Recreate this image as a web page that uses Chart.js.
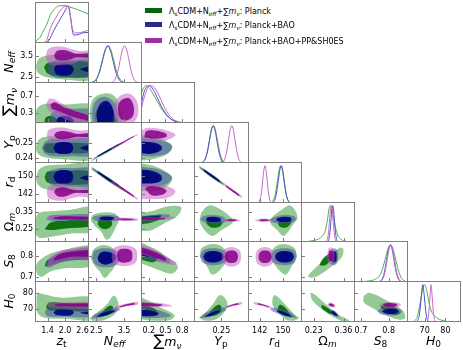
<!DOCTYPE html>
<html>
<head>
<meta charset="utf-8">
<script src="https://cdn.jsdelivr.net/npm/chart.js@4.4.1/dist/chart.umd.min.js"></script>
<style>
  html, body { margin: 0; padding: 0; background: #fff; }
  #fig { position: relative; width: 463px; height: 350px; overflow: hidden; font-family: "DejaVu Sans", sans-serif; }
  #fig canvas { position: absolute; }
  .title { position: absolute; white-space: nowrap; font-size: 12.5px; line-height: 1; color: #000; transform: translate(-50%, -50%); }
  .title.rot { transform: translate(-50%, -50%) rotate(-90deg); }
  .leg { position: absolute; left: 145px; font-size: 8px; line-height: 10px; white-space: nowrap; color: #000; }
  .leg .patch { display: inline-block; width: 17px; height: 5px; margin-right: 7px; vertical-align: 1px; }
  sub { font-size: 0.72em; vertical-align: -0.3em; line-height: 0; }
  .big { font-size: 1.3em; }
</style>
</head>
<body>
<div id="fig"></div>
<script>
// parameters: z_t, N_eff, sum m_nu, Y_p, r_d, Omega_m, S_8, H_0
const ranges = [[0.97, 2.82], [2.2, 4.15], [0.06, 1.03], [0.2368, 0.2633], [138, 156.5], [0.175, 0.41], [0.675, 0.87], [61.5, 87.5]];
const xTickLabels = [['1.4', '2.0', '2.6'], ['2.5', '3.5'], ['0.2', '0.5', '0.8'], ['0.25'], ['142', '150'], ['0.23', '0.36'], ['0.7', '0.8'], ['70', '80']];
const yTickLabels = [[], ['2.5', '3.5'], ['0.3', '0.7'], ['0.24', '0.25'], ['142', '150'], ['0.25', '0.35'], ['0.7', '0.8'], ['70', '80']];
const axisTitles = [
  '<i>z</i><sub>t</sub>', '<i>N</i><sub><i>eff</i></sub>', '<span class="big">∑</span><i>m</i><sub><i>ν</i></sub>',
  '<i>Y</i><sub>p</sub>', '<i>r</i><sub>d</sub>', 'Ω<sub><i>m</i></sub>', '<i>S</i><sub>8</sub>', '<i>H</i><sub>0</sub>'
];
const legendLabels = ['Planck', 'Planck+BAO', 'Planck+BAO+PP&amp;SH0ES'];

const legendColors = ['#0a640a', '#2b2b8c', '#a02ea0'];
const lineColors = ['#4fae4f', '#5050c8', '#c865c8'];
const fill95 = ['rgba(60,160,60,0.55)', 'rgba(70,80,170,0.55)', 'rgba(195,85,195,0.5)'];
const fill68 = ['rgba(0,105,0,0.9)', 'rgba(0,0,125,0.9)', 'rgba(135,0,135,0.85)'];

// 1D marginals, flat [x, density, ...]
const planck1d = [
  [0.97, 0.02, 1.0, 0.05, 1.14, 0.15, 1.26, 0.33, 1.38, 0.51, 1.49, 0.74, 1.6, 0.88, 1.7, 0.96, 1.8, 1.0, 2.0, 1.0, 2.15, 0.97, 2.3, 0.93, 2.42, 0.9, 2.6, 0.84, 2.82, 0.77],
  [2.3, 0.01, 2.43, 0.05, 2.53, 0.14, 2.63, 0.33, 2.73, 0.61, 2.83, 0.88, 2.93, 1, 3.03, 0.88, 3.13, 0.61, 3.23, 0.32, 3.33, 0.135, 3.43, 0.045, 3.55, 0.01],
  [0.06, 0.75, 0.1, 0.92, 0.15, 1.0, 0.22, 0.92, 0.3, 0.72, 0.4, 0.45, 0.5, 0.24, 0.6, 0.1, 0.7, 0.035, 0.8, 0.01, 0.9, 0],
  [0.2405, 0.011, 0.24145, 0.044, 0.2424, 0.135, 0.24335, 0.325, 0.2443, 0.607, 0.24525, 0.882, 0.2462, 1, 0.24715, 0.882, 0.2481, 0.607, 0.24905, 0.325, 0.25, 0.135, 0.25095, 0.044, 0.2519, 0.011],
  [145.9, 0.011, 146.45, 0.044, 147.0, 0.135, 147.55, 0.325, 148.1, 0.607, 148.65, 0.882, 149.2, 1, 149.75, 0.882, 150.3, 0.607, 150.85, 0.325, 151.4, 0.135, 151.95, 0.044, 152.5, 0.011],
  [0.19, 0, 0.22, 0.03, 0.25, 0.08, 0.27, 0.18, 0.28, 0.3, 0.29, 0.6, 0.298, 0.95, 0.303, 1.0, 0.31, 0.9, 0.318, 0.62, 0.327, 0.35, 0.337, 0.16, 0.35, 0.07, 0.37, 0.02, 0.39, 0],
  [0.7, 0, 0.73, 0.03, 0.75, 0.07, 0.77, 0.2, 0.78, 0.4, 0.79, 0.68, 0.8, 0.93, 0.806, 1.0, 0.815, 0.9, 0.825, 0.62, 0.835, 0.32, 0.845, 0.12, 0.855, 0.04, 0.865, 0],
  [64, 0, 65.5, 0.05, 66.5, 0.15, 67.5, 0.4, 68.5, 0.75, 69.5, 0.97, 70, 1.0, 71, 0.85, 72, 0.55, 73, 0.32, 74.5, 0.18, 76, 0.1, 78, 0.05, 80, 0.02, 82, 0]
];
const bao1d = [
  [1.3, 0, 1.45, 0.08, 1.61, 0.33, 1.84, 0.65, 2.01, 0.88, 2.09, 0.99, 2.13, 0.97, 2.19, 0.7, 2.25, 0.33, 2.3, 0.21, 2.4, 0.22, 2.5, 0.24, 2.65, 0.28, 2.82, 0.28],
  [2.3, 0.01, 2.43, 0.044, 2.53, 0.135, 2.62, 0.32, 2.72, 0.61, 2.815, 0.88, 2.91, 1, 3.0, 0.88, 3.1, 0.61, 3.19, 0.32, 3.29, 0.135, 3.38, 0.044, 3.5, 0.01],
  [0.06, 0.5, 0.12, 0.85, 0.2, 1.0, 0.28, 0.9, 0.36, 0.65, 0.45, 0.38, 0.55, 0.17, 0.65, 0.06, 0.75, 0.015, 0.85, 0],
  [0.2406, 0.011, 0.2415, 0.044, 0.2424, 0.135, 0.2433, 0.325, 0.2442, 0.607, 0.2451, 0.882, 0.246, 1, 0.2469, 0.882, 0.2478, 0.607, 0.2487, 0.325, 0.2496, 0.135, 0.2505, 0.044, 0.2514, 0.011],
  [146.4, 0.011, 146.9, 0.044, 147.4, 0.135, 147.9, 0.325, 148.4, 0.607, 148.9, 0.882, 149.4, 1, 149.9, 0.882, 150.4, 0.607, 150.9, 0.325, 151.4, 0.135, 151.9, 0.044, 152.4, 0.011],
  [0.2905, 0.011, 0.2943, 0.044, 0.298, 0.135, 0.3018, 0.325, 0.3055, 0.607, 0.3093, 0.882, 0.313, 1, 0.3168, 0.882, 0.3205, 0.607, 0.3243, 0.325, 0.328, 0.135, 0.3318, 0.044, 0.3355, 0.011],
  [0.767, 0.011, 0.7735, 0.044, 0.78, 0.135, 0.7865, 0.325, 0.793, 0.607, 0.7995, 0.882, 0.806, 1, 0.8125, 0.882, 0.819, 0.607, 0.8255, 0.325, 0.832, 0.135, 0.8385, 0.044, 0.845, 0.011],
  [66, 0, 66.7, 0.05, 67.3, 0.15, 67.8, 0.35, 68.4, 0.68, 69.1, 1.0, 69.8, 0.7, 70.4, 0.35, 71, 0.12, 71.6, 0.03, 72.3, 0]
];
const shoes1d = [
  [1.27, 0, 1.38, 0.1, 1.49, 0.38, 1.73, 0.74, 1.9, 0.93, 2.01, 0.99, 2.07, 1.0, 2.12, 0.95, 2.19, 0.65, 2.25, 0.38, 2.36, 0.27, 2.54, 0.28, 2.82, 0.35],
  [3.0, 0.01, 3.12, 0.044, 3.2, 0.135, 3.28, 0.32, 3.36, 0.61, 3.44, 0.88, 3.52, 1, 3.6, 0.88, 3.68, 0.61, 3.76, 0.32, 3.84, 0.135, 3.92, 0.044, 4.02, 0.01],
  [0.06, 0.35, 0.13, 0.75, 0.22, 1.0, 0.3, 0.95, 0.38, 0.75, 0.47, 0.45, 0.57, 0.2, 0.67, 0.07, 0.77, 0.02, 0.87, 0],
  [0.2502, 0.011, 0.251, 0.044, 0.2518, 0.135, 0.2526, 0.325, 0.2534, 0.607, 0.2542, 0.882, 0.255, 1, 0.2558, 0.882, 0.2566, 0.607, 0.2574, 0.325, 0.2582, 0.135, 0.259, 0.044, 0.2598, 0.011],
  [141.55, 0.011, 141.93, 0.044, 142.3, 0.135, 142.68, 0.325, 143.05, 0.607, 143.43, 0.882, 143.8, 1, 144.18, 0.882, 144.55, 0.607, 144.93, 0.325, 145.3, 0.135, 145.68, 0.044, 146.05, 0.011],
  [0.2845, 0.011, 0.2883, 0.044, 0.292, 0.135, 0.2958, 0.325, 0.2995, 0.607, 0.3033, 0.882, 0.307, 1, 0.3108, 0.882, 0.3145, 0.607, 0.3183, 0.325, 0.322, 0.135, 0.3258, 0.044, 0.3295, 0.011],
  [0.769, 0.011, 0.7755, 0.044, 0.782, 0.135, 0.7885, 0.325, 0.795, 0.607, 0.8015, 0.882, 0.808, 1, 0.8145, 0.882, 0.821, 0.607, 0.8275, 0.325, 0.834, 0.135, 0.8405, 0.044, 0.847, 0.011],
  [70.8, 0, 71.5, 0.06, 72.0, 0.25, 72.5, 0.6, 73.1, 1.0, 73.7, 0.62, 74.2, 0.26, 74.7, 0.07, 75.3, 0]
];

// 2D contours, key = row+col, polygons as flat [x, y, ...]
const planck95 = {
  '10': [[1.0, 3.0, 1.1, 3.35, 1.35, 3.5, 1.9, 3.55, 2.95, 3.55, 2.95, 2.4, 1.9, 2.38, 1.3, 2.5, 1.06, 2.7]],
  '20': [[0.99, 0.0, 0.99, 0.3, 1.1, 0.45, 1.4, 0.52, 2.0, 0.5, 2.95, 0.48, 2.95, 0.0]],
  '30': [[1.0, 0.2465, 1.1, 0.252, 1.35, 0.2538, 1.9, 0.254, 2.95, 0.254, 2.95, 0.2395, 1.9, 0.2392, 1.3, 0.2405, 1.06, 0.243]],
  '40': [[1.0, 149.5, 1.1, 153, 1.35, 154.8, 1.9, 155.3, 2.95, 155.3, 2.95, 143.5, 1.9, 143.3, 1.3, 144.3, 1.06, 146.5]],
  '50': [[1.0, 0.22, 0.99, 0.3, 1.1, 0.345, 1.5, 0.355, 2.2, 0.365, 2.95, 0.375, 2.95, 0.24, 2.2, 0.225, 1.5, 0.205, 1.1, 0.2]],
  '60': [[1.05, 0.71, 1.0, 0.745, 1.1, 0.775, 1.5, 0.81, 2.0, 0.83, 2.95, 0.845, 2.95, 0.755, 2.0, 0.74, 1.5, 0.725, 1.2, 0.7]],
  '70': [[1.02, 75, 1.06, 79.5, 1.3, 79, 1.8, 77, 2.95, 76.5, 2.95, 63.5, 2.0, 63.5, 1.3, 64.2, 1.06, 67]],
  '21': [[2.3, 0.0, 2.27, 0.4, 2.42, 0.66, 2.8, 0.76, 3.15, 0.7, 3.35, 0.45, 3.42, 0.0]],
  '31': [[2.33, 0.2388, 3.5, 0.2507, 3.5, 0.2497, 2.33, 0.2379]],
  '41': [[2.33, 154.4, 3.5, 144.5, 3.5, 143.2, 2.33, 153.1]],
  '51': [[2.3, 0.3, 2.35, 0.33, 2.6, 0.345, 2.9, 0.35, 3.2, 0.34, 3.32, 0.31, 3.2, 0.26, 3.0, 0.2, 2.85, 0.19, 2.7, 0.23, 2.45, 0.27]],
  '61': [[2.3, 0.79, 2.4, 0.83, 2.7, 0.85, 3.05, 0.84, 3.25, 0.8, 3.2, 0.76, 3.0, 0.72, 2.8, 0.695, 2.6, 0.73, 2.4, 0.76]],
  '71': [[2.25, 63.5, 2.5, 67, 2.9, 73, 3.1, 78, 3.22, 77, 3.3, 72, 3.2, 67, 2.8, 62.8, 2.4, 62.3]],
  '32': [[0.0, 0.2395, 0.0, 0.2535, 0.2, 0.2545, 0.45, 0.252, 0.62, 0.248, 0.55, 0.243, 0.35, 0.24, 0.15, 0.2385]],
  '42': [[0.0, 143.5, 0.0, 155, 0.2, 155.3, 0.45, 153, 0.62, 149, 0.5, 145, 0.3, 143.5]],
  '52': [[0.0, 0.25, 0.0, 0.33, 0.3, 0.36, 0.55, 0.385, 0.78, 0.38, 0.72, 0.33, 0.45, 0.28, 0.2, 0.24]],
  '62': [[0.0, 0.77, 0.0, 0.86, 0.25, 0.84, 0.5, 0.8, 0.72, 0.75, 0.62, 0.715, 0.35, 0.735]],
  '72': [[0.0, 63.5, 0.0, 77, 0.2, 75, 0.45, 70, 0.66, 66, 0.6, 63, 0.3, 62.3]],
  '43': [[0.2393, 154.9, 0.2512, 147, 0.2512, 145.8, 0.2393, 153.7]],
  '53': [[0.2395, 0.31, 0.2405, 0.35, 0.244, 0.39, 0.249, 0.37, 0.2545, 0.32, 0.2555, 0.29, 0.25, 0.245, 0.246, 0.21, 0.243, 0.23, 0.24, 0.28]],
  '63': [[0.2395, 0.8, 0.2405, 0.835, 0.245, 0.855, 0.25, 0.845, 0.2535, 0.8, 0.2515, 0.76, 0.248, 0.72, 0.2455, 0.71, 0.243, 0.75]],
  '73': [[0.2392, 64, 0.242, 67, 0.246, 73, 0.249, 78.5, 0.2515, 77, 0.253, 72, 0.251, 67, 0.247, 63, 0.242, 62.5]],
  '54': [[155, 0.31, 154.5, 0.35, 152.5, 0.39, 150, 0.37, 146.3, 0.32, 145.5, 0.29, 148, 0.245, 150, 0.21, 151.5, 0.23, 153.5, 0.28]],
  '64': [[154.8, 0.8, 154, 0.835, 151, 0.855, 147.5, 0.845, 145.5, 0.8, 147, 0.76, 149.5, 0.72, 151, 0.71, 153, 0.75]],
  '74': [[155.5, 64, 153.5, 67, 150.5, 73, 147.5, 78.5, 146.5, 77, 146.5, 72, 148.5, 67, 151, 63, 154, 62.5]],
  '65': [[0.205, 0.705, 0.23, 0.735, 0.3, 0.8, 0.345, 0.838, 0.36, 0.83, 0.35, 0.79, 0.31, 0.75, 0.25, 0.705, 0.215, 0.695]],
  '75': [[0.215, 80, 0.235, 79, 0.29, 72, 0.34, 66, 0.385, 62.5, 0.37, 61.5, 0.33, 63.5, 0.28, 68, 0.225, 75]],
  '76': [[0.71, 78, 0.73, 80, 0.79, 75.5, 0.85, 69, 0.86, 64, 0.84, 63, 0.8, 65, 0.74, 70.5, 0.71, 74]]
};
const planck68 = {
  '10': [[1.28, 2.95, 1.4, 3.15, 1.7, 3.2, 2.95, 3.15, 2.95, 2.55, 1.8, 2.5, 1.4, 2.65]],
  '20': [[1.3, 0.0, 1.33, 0.18, 1.55, 0.22, 1.75, 0.12, 1.8, 0.0]],
  '30': [[1.25, 0.2465, 1.35, 0.2492, 1.6, 0.2495, 2.95, 0.249, 2.95, 0.244, 1.8, 0.2432, 1.35, 0.2438]],
  '40': [[1.3, 149.5, 1.38, 152, 1.6, 152.3, 2.95, 152, 2.95, 147, 1.8, 146.5, 1.4, 147.2]],
  '50': [[1.3, 0.25, 1.5, 0.29, 2.0, 0.3, 2.95, 0.31, 2.95, 0.27, 2.0, 0.255, 1.5, 0.245]],
  '60': [[1.3, 0.75, 1.4, 0.78, 1.8, 0.8, 2.95, 0.81, 2.95, 0.785, 2.0, 0.775, 1.5, 0.755]],
  '70': [[1.35, 71, 1.45, 73.8, 2.0, 73.5, 2.95, 73, 2.95, 68.5, 2.0, 68.8, 1.45, 69]],
  '21': [[2.5, 0.0, 2.48, 0.3, 2.65, 0.45, 2.95, 0.48, 3.15, 0.3, 3.2, 0.0]],
  '31': [[2.55, 0.2416, 3.3, 0.2491, 3.3, 0.2483, 2.55, 0.2409]],
  '41': [[2.55, 152.6, 3.3, 146.3, 3.3, 145.4, 2.55, 151.7]],
  '51': [[2.55, 0.28, 2.6, 0.31, 2.85, 0.32, 3.05, 0.3, 3.05, 0.27, 2.85, 0.25, 2.65, 0.26]],
  '61': [[2.55, 0.79, 2.65, 0.815, 2.9, 0.82, 3.1, 0.8, 3.05, 0.77, 2.85, 0.755, 2.65, 0.765]],
  '71': [[2.6, 66, 2.8, 69.5, 3.0, 72, 3.1, 71, 3.05, 67.5, 2.85, 65.5]],
  '32': [[0.0, 0.2435, 0.0, 0.2495, 0.2, 0.2498, 0.35, 0.2478, 0.35, 0.2445, 0.2, 0.2432]],
  '42': [[0.0, 146.8, 0.0, 152.3, 0.2, 152.4, 0.35, 150.5, 0.35, 147.5, 0.2, 146.7]],
  '52': [[0.0, 0.28, 0.0, 0.315, 0.25, 0.33, 0.42, 0.335, 0.4, 0.31, 0.2, 0.285]],
  '62': [[0.0, 0.79, 0.0, 0.83, 0.2, 0.82, 0.35, 0.79, 0.3, 0.77, 0.15, 0.775]],
  '72': [[0.0, 66.5, 0.0, 73, 0.2, 71.5, 0.35, 68.5, 0.3, 66.5, 0.15, 65.8]],
  '43': [[0.2415, 153.4, 0.2492, 148.2, 0.2492, 147.3, 0.2415, 152.5]],
  '53': [[0.2425, 0.3, 0.2435, 0.32, 0.2475, 0.315, 0.2505, 0.29, 0.249, 0.265, 0.2455, 0.26, 0.243, 0.28]],
  '63': [[0.2425, 0.79, 0.2435, 0.81, 0.247, 0.815, 0.2495, 0.8, 0.2485, 0.775, 0.2455, 0.77]],
  '73': [[0.2435, 66, 0.2455, 69.5, 0.2485, 72.5, 0.25, 71, 0.2495, 67.5, 0.2465, 65.5]],
  '54': [[153, 0.3, 152.5, 0.32, 150.2, 0.315, 148.3, 0.29, 149, 0.265, 151, 0.26, 152.5, 0.28]],
  '64': [[152.8, 0.79, 152.2, 0.81, 149.8, 0.815, 148.3, 0.8, 149, 0.775, 151, 0.77]],
  '74': [[152.5, 66, 151.3, 69.5, 149.2, 72.5, 148.3, 71, 148.8, 67.5, 150.8, 65.5]],
  '65': [[0.255, 0.755, 0.27, 0.785, 0.3, 0.81, 0.315, 0.805, 0.305, 0.78, 0.28, 0.755]],
  '75': [[0.265, 72.5, 0.29, 70.5, 0.31, 68, 0.305, 66.5, 0.285, 68, 0.265, 70.5]],
  '76': [[0.77, 71, 0.79, 73.5, 0.83, 70, 0.84, 67, 0.82, 66, 0.79, 68]]
};
const bao95 = {
  '10': [[1.38, 2.85, 1.45, 3.1, 1.7, 3.28, 2.2, 3.3, 2.95, 3.25, 2.95, 2.55, 2.2, 2.45, 1.7, 2.45, 1.45, 2.6]],
  '20': [[1.45, 0.0, 1.5, 0.25, 1.8, 0.4, 2.3, 0.4, 2.95, 0.35, 2.95, 0.0]],
  '30': [[1.2, 0.2465, 1.35, 0.251, 1.7, 0.2525, 2.2, 0.2525, 2.95, 0.252, 2.95, 0.242, 2.2, 0.2412, 1.6, 0.2412, 1.3, 0.243]],
  '40': [[1.38, 149.5, 1.45, 152.2, 1.7, 153.5, 2.2, 153.7, 2.95, 153.3, 2.95, 145.8, 2.2, 145.5, 1.7, 145.6, 1.45, 147]],
  '50': [[1.35, 0.31, 1.5, 0.33, 2.0, 0.335, 2.95, 0.335, 2.95, 0.305, 2.0, 0.3, 1.5, 0.3]],
  '60': [[1.35, 0.745, 1.4, 0.775, 1.8, 0.815, 2.3, 0.83, 2.95, 0.835, 2.95, 0.785, 2.3, 0.78, 1.8, 0.765, 1.5, 0.745]],
  '70': [[1.3, 67.5, 1.4, 70.3, 2.0, 70.5, 2.95, 70.3, 2.95, 65, 2.0, 64.8, 1.4, 65.2]],
  '21': [[2.38, 0.0, 2.35, 0.35, 2.5, 0.6, 2.8, 0.68, 3.15, 0.55, 3.28, 0.3, 3.25, 0.0]],
  '31': [[2.4, 0.2401, 3.42, 0.2503, 3.42, 0.2494, 2.4, 0.2392]],
  '41': [[2.38, 153.8, 3.42, 145.0, 3.42, 144.0, 2.38, 152.8]],
  '51': [[2.35, 0.315, 2.45, 0.328, 2.9, 0.333, 3.3, 0.325, 3.35, 0.31, 3.2, 0.298, 2.8, 0.295, 2.45, 0.302]],
  '61': [[2.35, 0.79, 2.45, 0.825, 2.9, 0.835, 3.3, 0.815, 3.35, 0.785, 3.2, 0.755, 2.8, 0.745, 2.45, 0.76]],
  '71': [[2.3, 63.8, 2.45, 66.5, 2.9, 69.3, 3.3, 70.5, 3.35, 69.2, 3.0, 66.5, 2.6, 64.2]],
  '32': [[0.0, 0.2415, 0.0, 0.2515, 0.25, 0.2522, 0.5, 0.2505, 0.62, 0.2475, 0.55, 0.2435, 0.3, 0.2412]],
  '42': [[0.0, 145.5, 0.0, 153.6, 0.25, 153.8, 0.5, 152, 0.62, 149.5, 0.5, 146.3, 0.25, 145.3]],
  '52': [[0.0, 0.302, 0.0, 0.322, 0.3, 0.333, 0.55, 0.338, 0.58, 0.325, 0.4, 0.31, 0.15, 0.3]],
  '62': [[0.0, 0.79, 0.0, 0.84, 0.3, 0.82, 0.55, 0.785, 0.58, 0.765, 0.4, 0.77, 0.15, 0.785]],
  '72': [[0.0, 64.5, 0.0, 70.5, 0.25, 70, 0.5, 67.5, 0.6, 65.5, 0.45, 64.3, 0.2, 64]],
  '43': [[0.24, 154.3, 0.2505, 147.3, 0.2505, 146.3, 0.24, 153.3]],
  '53': [[0.2397, 0.31, 0.2415, 0.328, 0.246, 0.333, 0.251, 0.322, 0.2522, 0.3, 0.2505, 0.286, 0.246, 0.283, 0.2415, 0.292]],
  '63': [[0.2397, 0.795, 0.2412, 0.825, 0.246, 0.835, 0.251, 0.825, 0.2528, 0.795, 0.251, 0.765, 0.246, 0.755, 0.2412, 0.765]],
  '73': [[0.2395, 64, 0.2415, 66.8, 0.2465, 69.4, 0.2515, 70.5, 0.2522, 69.2, 0.2485, 66.5, 0.243, 64.3]],
  '54': [[154.7, 0.31, 153.5, 0.328, 150.5, 0.333, 147, 0.322, 145.5, 0.305, 146.5, 0.289, 150, 0.283, 153.5, 0.292]],
  '64': [[154.7, 0.795, 153.8, 0.825, 150.5, 0.835, 147, 0.825, 146, 0.795, 147, 0.765, 150.5, 0.755, 153.8, 0.765]],
  '74': [[154.8, 64, 153.3, 66.8, 149.8, 69.4, 146.3, 70.5, 145.7, 69.2, 148.5, 66.5, 152.4, 64.3]],
  '65': [[0.301, 0.795, 0.305, 0.825, 0.318, 0.835, 0.333, 0.825, 0.336, 0.795, 0.332, 0.765, 0.318, 0.755, 0.305, 0.765]],
  '75': [[0.3, 68.5, 0.31, 69.3, 0.325, 68.2, 0.34, 65.5, 0.335, 64.5, 0.32, 65.5, 0.305, 67]],
  '76': [[0.758, 68.5, 0.775, 70.3, 0.805, 70.8, 0.84, 69.8, 0.848, 67.8, 0.83, 66, 0.8, 65.6, 0.77, 66.5]]
};
const bao68 = {
  '10': [[1.62, 2.85, 1.7, 3.05, 1.95, 3.12, 2.2, 3.05, 2.3, 2.85, 2.2, 2.62, 1.95, 2.55, 1.7, 2.62], [2.5, 2.85, 2.7, 2.95, 2.95, 2.98, 2.95, 2.72, 2.7, 2.75]],
  '20': [[1.7, 0.0, 1.75, 0.18, 2.1, 0.22, 2.3, 0.12, 2.3, 0.0]],
  '30': [[1.6, 0.2465, 1.7, 0.2495, 1.95, 0.2503, 2.2, 0.2495, 2.28, 0.2465, 2.2, 0.2435, 1.95, 0.2426, 1.7, 0.2435], [2.5, 0.2465, 2.7, 0.248, 2.95, 0.2482, 2.95, 0.2452, 2.7, 0.245]],
  '40': [[1.6, 149.8, 1.7, 152.2, 1.95, 152.9, 2.2, 152.2, 2.28, 149.8, 2.2, 147.4, 1.95, 146.8, 1.7, 147.4], [2.5, 149.3, 2.7, 150.3, 2.95, 150.4, 2.95, 148.2, 2.7, 148.4]],
  '50': [[1.6, 0.315, 1.8, 0.325, 2.2, 0.325, 2.95, 0.322, 2.95, 0.31, 2.2, 0.31, 1.8, 0.308]],
  '60': [[1.6, 0.775, 1.75, 0.8, 2.2, 0.815, 2.95, 0.82, 2.95, 0.8, 2.2, 0.795, 1.8, 0.78]],
  '70': [[1.6, 67.3, 1.7, 69.1, 2.0, 69.3, 2.25, 68.8, 2.3, 67.3, 2.2, 65.8, 1.9, 65.5, 1.7, 65.9], [2.5, 67.3, 2.7, 68, 2.95, 68, 2.95, 66.6, 2.7, 66.6]],
  '21': [[2.55, 0.0, 2.52, 0.3, 2.65, 0.52, 2.9, 0.58, 3.1, 0.4, 3.12, 0.12, 3.05, 0.0]],
  '31': [[2.55, 0.2414, 3.27, 0.2487, 3.27, 0.2481, 2.55, 0.2408]],
  '41': [[2.55, 152.4, 3.27, 146.3, 3.27, 145.6, 2.55, 151.7]],
  '51': [[2.6, 0.315, 2.7, 0.323, 2.95, 0.325, 3.15, 0.318, 3.15, 0.308, 2.95, 0.303, 2.7, 0.306]],
  '61': [[2.55, 0.79, 2.65, 0.813, 2.9, 0.818, 3.15, 0.808, 3.2, 0.785, 3.05, 0.765, 2.8, 0.76, 2.6, 0.77]],
  '71': [[2.5, 64.8, 2.7, 67, 3.0, 68.7, 3.18, 68.8, 3.05, 67, 2.75, 65.2]],
  '32': [[0.0, 0.2432, 0.0, 0.2495, 0.25, 0.2502, 0.42, 0.248, 0.42, 0.245, 0.25, 0.2428]],
  '42': [[0.0, 147, 0.0, 152.3, 0.25, 152.6, 0.42, 150.5, 0.42, 148, 0.25, 146.8]],
  '52': [[0.0, 0.307, 0.0, 0.318, 0.25, 0.325, 0.4, 0.326, 0.38, 0.317, 0.2, 0.309]],
  '62': [[0.0, 0.8, 0.0, 0.83, 0.2, 0.818, 0.4, 0.795, 0.38, 0.785, 0.2, 0.795]],
  '72': [[0.0, 65.5, 0.0, 69.5, 0.2, 69, 0.38, 67.2, 0.35, 65.8, 0.2, 65.2]],
  '43': [[0.2418, 153, 0.249, 148.2, 0.249, 147.5, 0.2418, 152.3]],
  '53': [[0.2425, 0.308, 0.2437, 0.32, 0.2465, 0.323, 0.2495, 0.314, 0.2495, 0.298, 0.2465, 0.292, 0.2437, 0.296]],
  '63': [[0.2412, 0.795, 0.2425, 0.815, 0.246, 0.822, 0.2495, 0.815, 0.2512, 0.795, 0.2495, 0.775, 0.246, 0.768, 0.2425, 0.775]],
  '73': [[0.2418, 64.9, 0.2445, 67, 0.2478, 68.6, 0.2495, 68.6, 0.248, 67, 0.2445, 65.2]],
  '54': [[153, 0.308, 152.3, 0.32, 150.3, 0.323, 148, 0.314, 147.8, 0.3, 150.3, 0.292, 152.3, 0.296]],
  '64': [[153.8, 0.795, 153, 0.815, 150.5, 0.822, 148.2, 0.815, 147.3, 0.795, 148.2, 0.775, 150.5, 0.768, 153, 0.775]],
  '74': [[153.3, 64.9, 151.3, 67, 149, 68.6, 147.8, 68.6, 149, 67, 151.3, 65.2]],
  '65': [[0.306, 0.795, 0.309, 0.815, 0.318, 0.822, 0.328, 0.815, 0.33, 0.795, 0.328, 0.775, 0.318, 0.768, 0.309, 0.775]],
  '75': [[0.305, 68, 0.315, 68.5, 0.328, 67, 0.333, 65.5, 0.325, 65.5, 0.31, 66.8]],
  '76': [[0.775, 68.3, 0.79, 69.6, 0.81, 69.9, 0.83, 69.2, 0.835, 67.8, 0.82, 66.8, 0.8, 66.6, 0.785, 67.2]]
};
const shoes95 = {
  '10': [[1.33, 3.45, 1.45, 3.85, 1.9, 3.93, 2.25, 3.8, 2.5, 3.72, 2.95, 3.72, 2.95, 3.25, 2.5, 3.25, 2.25, 3.1, 1.8, 3.05, 1.45, 3.12]],
  '20': [[1.35, 0.5, 1.45, 0.63, 1.7, 0.6, 2.3, 0.35, 2.95, 0.15, 2.95, 0.0, 2.4, 0.05, 1.8, 0.22, 1.45, 0.35]],
  '30': [[1.37, 0.2548, 1.45, 0.2585, 1.9, 0.2598, 2.25, 0.2585, 2.5, 0.2578, 2.95, 0.2578, 2.95, 0.2525, 2.5, 0.2525, 2.25, 0.2512, 1.8, 0.2505, 1.45, 0.2515]],
  '40': [[1.37, 143, 1.45, 145.5, 1.8, 146.6, 2.25, 145.5, 2.5, 145, 2.95, 145, 2.95, 140.8, 2.5, 140.8, 2.25, 140.2, 1.9, 139, 1.45, 140]],
  '50': [[1.35, 0.315, 1.5, 0.33, 2.0, 0.33, 2.95, 0.325, 2.95, 0.305, 2.0, 0.305, 1.5, 0.305]],
  '60': [[1.38, 0.755, 1.45, 0.785, 1.8, 0.82, 2.3, 0.835, 2.95, 0.84, 2.95, 0.785, 2.3, 0.78, 1.8, 0.77, 1.5, 0.75]],
  '70': [[1.38, 72.2, 1.45, 73.8, 2.0, 74, 2.95, 73.8, 2.95, 70.4, 2.0, 70.4, 1.45, 70.8]],
  '21': [[3.15, 0.2, 3.15, 0.5, 3.35, 0.7, 3.7, 0.75, 3.98, 0.55, 3.98, 0.2, 3.7, 0.0, 3.35, 0.0]],
  '31': [[3.05, 0.2464, 3.98, 0.2556, 3.98, 0.2547, 3.05, 0.2455]],
  '41': [[3.05, 148.3, 3.98, 140.4, 3.98, 139.5, 3.05, 147.4]],
  '51': [[3.05, 0.31, 3.2, 0.318, 3.6, 0.317, 4.0, 0.312, 4.0, 0.302, 3.6, 0.298, 3.2, 0.3]],
  '61': [[3.05, 0.8, 3.12, 0.835, 3.5, 0.85, 3.9, 0.835, 3.98, 0.8, 3.9, 0.765, 3.5, 0.75, 3.12, 0.765]],
  '71': [[3.1, 70.3, 3.3, 72, 3.7, 73.6, 4.0, 74.3, 4.0, 72.6, 3.6, 71.6, 3.25, 70]],
  '32': [[0.0, 0.252, 0.1, 0.2585, 0.3, 0.2595, 0.55, 0.2575, 0.68, 0.255, 0.55, 0.2518, 0.3, 0.2508]],
  '42': [[0.0, 145.3, 0.12, 146.8, 0.35, 146.6, 0.6, 145, 0.68, 143, 0.55, 140.5, 0.3, 139.8, 0.0, 140.5]],
  '52': [[0.0, 0.298, 0.0, 0.315, 0.3, 0.32, 0.6, 0.324, 0.7, 0.318, 0.5, 0.307, 0.2, 0.3]],
  '62': [[0.0, 0.805, 0.0, 0.85, 0.3, 0.83, 0.55, 0.79, 0.7, 0.765, 0.62, 0.755, 0.4, 0.78, 0.15, 0.8]],
  '72': [[0.0, 71.2, 0.0, 74.2, 0.3, 73.8, 0.55, 72.6, 0.62, 71.5, 0.4, 71.2, 0.15, 70.8]],
  '43': [[0.251, 147.1, 0.2598, 141.2, 0.2598, 140.2, 0.251, 146.1]],
  '53': [[0.2505, 0.303, 0.2515, 0.31, 0.2545, 0.313, 0.2585, 0.306, 0.259, 0.298, 0.2555, 0.294, 0.252, 0.296]],
  '63': [[0.2502, 0.795, 0.2512, 0.828, 0.2548, 0.842, 0.2585, 0.828, 0.2595, 0.795, 0.2585, 0.762, 0.2548, 0.748, 0.2512, 0.762]],
  '73': [[0.2505, 70.5, 0.2535, 72.3, 0.2575, 73.6, 0.26, 74.2, 0.2598, 72.9, 0.256, 71.7, 0.252, 70.2]],
  '54': [[146.3, 0.303, 145.5, 0.31, 143.5, 0.313, 140.8, 0.306, 140.4, 0.298, 142.8, 0.294, 145.3, 0.296]],
  '64': [[147, 0.795, 146.3, 0.828, 143.8, 0.842, 141.3, 0.828, 140.6, 0.795, 141.3, 0.762, 143.8, 0.748, 146.3, 0.762]],
  '74': [[146.5, 70.5, 144.5, 72.3, 141.8, 73.6, 140, 74.2, 140.1, 72.9, 142.8, 71.7, 145.8, 70.2]],
  '65': [[0.29, 0.8, 0.293, 0.83, 0.305, 0.84, 0.318, 0.83, 0.321, 0.8, 0.318, 0.768, 0.305, 0.758, 0.293, 0.768]],
  '75': [[0.29, 72.5, 0.3, 73.8, 0.315, 73.3, 0.325, 71.5, 0.32, 70.5, 0.305, 71]],
  '76': [[0.765, 72.3, 0.78, 73.8, 0.805, 74.2, 0.835, 73.6, 0.845, 72.3, 0.83, 70.8, 0.805, 70.4, 0.78, 70.9]]
};
const shoes68 = {
  '10': [[1.62, 3.5, 1.72, 3.72, 1.95, 3.77, 2.2, 3.68, 2.4, 3.58, 2.95, 3.6, 2.95, 3.42, 2.4, 3.42, 2.2, 3.33, 1.95, 3.27, 1.72, 3.3]],
  '20': [[1.5, 0.5, 1.65, 0.55, 2.0, 0.42, 2.95, 0.2, 2.95, 0.1, 2.3, 0.2, 1.75, 0.35, 1.55, 0.4]],
  '30': [[1.62, 0.2548, 1.72, 0.2568, 1.95, 0.2575, 2.2, 0.2566, 2.4, 0.2556, 2.95, 0.2558, 2.95, 0.2538, 2.4, 0.2538, 2.2, 0.253, 1.95, 0.2522, 1.72, 0.2528]],
  '40': [[1.62, 143, 1.72, 144.6, 1.95, 145.1, 2.2, 144.2, 2.4, 143.8, 2.95, 143.9, 2.95, 142.6, 2.4, 142.6, 2.2, 141.9, 1.95, 140.8, 1.72, 141.3]],
  '50': [[1.55, 0.315, 1.8, 0.324, 2.95, 0.32, 2.95, 0.31, 1.8, 0.308]],
  '60': [[1.6, 0.78, 1.75, 0.805, 2.2, 0.82, 2.95, 0.825, 2.95, 0.8, 2.2, 0.795, 1.8, 0.785]],
  '70': [[1.62, 72.2, 1.75, 73.1, 2.2, 73.1, 2.95, 73, 2.95, 71.4, 2.2, 71.4, 1.75, 71.4]],
  '21': [[3.3, 0.25, 3.3, 0.5, 3.45, 0.62, 3.7, 0.64, 3.85, 0.45, 3.82, 0.22, 3.6, 0.12, 3.4, 0.15]],
  '31': [[3.2, 0.2479, 3.85, 0.2543, 3.85, 0.2537, 3.2, 0.2473]],
  '41': [[3.2, 146.9, 3.85, 141.4, 3.85, 140.7, 3.2, 146.2]],
  '51': [[3.25, 0.309, 3.4, 0.313, 3.7, 0.312, 3.9, 0.308, 3.7, 0.303, 3.4, 0.304]],
  '61': [[3.25, 0.8, 3.3, 0.825, 3.5, 0.833, 3.75, 0.825, 3.8, 0.8, 3.75, 0.775, 3.5, 0.767, 3.3, 0.775]],
  '71': [[3.3, 71, 3.5, 72.3, 3.85, 73.5, 3.9, 72.8, 3.6, 71.8, 3.4, 70.9]],
  '32': [[0.12, 0.2535, 0.15, 0.2572, 0.3, 0.2578, 0.5, 0.256, 0.52, 0.2537, 0.3, 0.2525]],
  '42': [[0.13, 144.5, 0.2, 145.6, 0.38, 145.3, 0.52, 143.5, 0.45, 141.8, 0.25, 141.5]],
  '52': [[0.0, 0.302, 0.0, 0.311, 0.3, 0.315, 0.5, 0.316, 0.48, 0.309, 0.25, 0.304]],
  '62': [[0.0, 0.815, 0.0, 0.84, 0.3, 0.82, 0.5, 0.79, 0.5, 0.775, 0.3, 0.795, 0.15, 0.81]],
  '72': [[0.0, 71.8, 0.0, 73.5, 0.3, 73.2, 0.45, 72.4, 0.4, 71.7, 0.2, 71.5]],
  '43': [[0.2522, 146, 0.2585, 141.8, 0.2585, 141.1, 0.2522, 145.3]],
  '53': [[0.2522, 0.302, 0.2535, 0.307, 0.2555, 0.308, 0.2575, 0.304, 0.2565, 0.299, 0.2535, 0.298]],
  '63': [[0.2515, 0.795, 0.2525, 0.818, 0.2548, 0.825, 0.2572, 0.818, 0.258, 0.795, 0.2572, 0.772, 0.2548, 0.765, 0.2525, 0.772]],
  '73': [[0.2525, 71.1, 0.255, 72.4, 0.258, 73.4, 0.2585, 72.8, 0.2555, 71.9, 0.253, 70.9]],
  '54': [[145.3, 0.302, 144.5, 0.307, 143.2, 0.308, 141.8, 0.304, 142.4, 0.299, 144.4, 0.298]],
  '64': [[146.1, 0.795, 145.5, 0.818, 143.8, 0.825, 142.2, 0.818, 141.6, 0.795, 142.2, 0.772, 143.8, 0.765, 145.5, 0.772]],
  '74': [[145.3, 71.1, 143.5, 72.4, 141.5, 73.4, 141.2, 72.8, 143.2, 71.9, 145, 70.9]],
  '65': [[0.295, 0.8, 0.297, 0.82, 0.305, 0.826, 0.313, 0.82, 0.315, 0.8, 0.313, 0.78, 0.305, 0.774, 0.297, 0.78]],
  '75': [[0.295, 72.5, 0.303, 73.3, 0.315, 72.7, 0.32, 71.5, 0.312, 71.3, 0.3, 71.8]],
  '76': [[0.78, 72.3, 0.79, 73.3, 0.805, 73.6, 0.825, 73.2, 0.832, 72.3, 0.822, 71.4, 0.805, 71.1, 0.79, 71.4]]
};

// panel grid (pixel edges)
const X = [35, 88, 141, 194, 248, 301, 354, 407, 460];
const Y = [2, 42, 82, 122, 162, 202, 241, 281, 321];
const LEFT_W = 35;
const BOTTOM_H = 29;

const fig = document.getElementById('fig');

const toPoints = (flat, close) => {
  const pts = [];
  for (let i = 0; i < flat.length; i += 2) {
    pts.push({ x: flat[i], y: flat[i + 1] });
  }
  if (close) pts.push({ ...pts[0] });
  return pts;
};

// frame and inward tick marks for each panel
const framePlugin = {
  id: 'frame',
  afterDraw(chart) {
    const { ctx, chartArea: a, scales } = chart;
    ctx.save();
    ctx.strokeStyle = '#808080';
    ctx.lineWidth = 1;
    ctx.strokeRect(a.left + 0.5, a.top + 0.5, a.right - a.left - 1, a.bottom - a.top - 1);
    ctx.beginPath();
    scales.x.ticks.forEach((t) => {
      const px = Math.round(scales.x.getPixelForValue(t.value)) + 0.5;
      ctx.moveTo(px, a.bottom - 1);
      ctx.lineTo(px, a.bottom - 4);
    });
    scales.y.ticks.forEach((t) => {
      const py = Math.round(scales.y.getPixelForValue(t.value)) + 0.5;
      ctx.moveTo(a.left + 1, py);
      ctx.lineTo(a.left + 4, py);
    });
    ctx.stroke();
    ctx.restore();
  },
};

const makePanel = (r, c) => {
  const hasY = c === 0 && r > 0;
  const hasX = r === 7;
  const diag = r === c;
  const w = X[c + 1] - X[c] + 1 + (hasY ? LEFT_W : 0);
  const h = Y[r + 1] - Y[r] + 1 + (hasX ? BOTTOM_H : 0);

  const canvas = document.createElement('canvas');
  canvas.width = w;
  canvas.height = h;
  canvas.style.left = (X[c] - (hasY ? LEFT_W : 0)) + 'px';
  canvas.style.top = Y[r] + 'px';
  canvas.style.width = w + 'px';
  canvas.style.height = h + 'px';
  fig.appendChild(canvas);

  let datasets = [];
  if (diag) {
    datasets = [planck1d, bao1d, shoes1d].map((series, s) => ({
      data: toPoints(series[c]),
      borderColor: lineColors[s],
      borderWidth: 1,
      pointRadius: 0,
      fill: false,
      cubicInterpolationMode: 'monotone',
    }));
  } else {
    const key = '' + r + c;
    [[planck95, planck68], [bao95, bao68], [shoes95, shoes68]].forEach((levels, s) => {
      levels.forEach((contours, k) => {
        (contours[key] || []).forEach((poly) => {
          datasets.push({
            data: toPoints(poly, true),
            backgroundColor: k === 0 ? fill95[s] : fill68[s],
            borderWidth: 0,
            pointRadius: 0,
            fill: 'shape',
            tension: 0.35,
          });
        });
      });
    });
  }
  // first dataset is painted last, so reverse to keep Planck at the bottom
  datasets.reverse();

  const tickFont = { family: 'DejaVu Sans', size: 8 };

  return new Chart(canvas, {
    type: 'line',
    data: { datasets },
    options: {
      responsive: false,
      animation: false,
      devicePixelRatio: 1,
      events: [],
      layout: { padding: 0, autoPadding: false },
      plugins: { legend: { display: false }, tooltip: { enabled: false } },
      scales: {
        x: {
          type: 'linear',
          min: ranges[c][0],
          max: ranges[c][1],
          grid: { display: false, drawTicks: false },
          border: { display: false },
          ticks: {
            display: hasX,
            padding: 4,
            color: '#000',
            font: tickFont,
            maxRotation: 0,
            autoSkip: false,
            callback: (v, i) => xTickLabels[c][i],
          },
          afterBuildTicks: (s) => { s.ticks = xTickLabels[c].map((t) => ({ value: parseFloat(t) })); },
          afterFit: (s) => { s.height = hasX ? BOTTOM_H : 0; s.paddingLeft = 0; s.paddingRight = 0; },
        },
        y: {
          type: 'linear',
          min: diag ? 0 : ranges[r][0],
          max: diag ? 1.1 : ranges[r][1],
          grid: { display: false, drawTicks: false },
          border: { display: false },
          ticks: {
            display: hasY,
            padding: 2,
            color: '#000',
            font: tickFont,
            autoSkip: false,
            callback: (v, i) => yTickLabels[r][i],
          },
          afterBuildTicks: (s) => {
            s.ticks = diag ? [] : yTickLabels[r].map((t) => ({ value: parseFloat(t) }));
          },
          afterFit: (s) => { s.width = hasY ? LEFT_W : 0; s.paddingTop = 0; s.paddingBottom = 0; },
        },
      },
    },
    plugins: [framePlugin],
  });
};

for (let r = 0; r < 8; r++) {
  for (let c = 0; c <= r; c++) {
    makePanel(r, c);
  }
}

// axis titles
axisTitles.forEach((html, i) => {
  const bottom = document.createElement('div');
  bottom.className = 'title';
  bottom.innerHTML = html;
  bottom.style.left = ((X[i] + X[i + 1]) / 2) + 'px';
  bottom.style.top = '341px';
  fig.appendChild(bottom);
  if (i > 0) {
    const left = document.createElement('div');
    left.className = 'title rot';
    left.innerHTML = html;
    left.style.left = '9px';
    left.style.top = ((Y[i] + Y[i + 1]) / 2) + 'px';
    fig.appendChild(left);
  }
});

// legend
legendLabels.forEach((label, i) => {
  const item = document.createElement('div');
  item.className = 'leg';
  item.style.top = [7, 21, 37][i] + 'px';
  item.innerHTML = '<span class="patch" style="background:' + legendColors[i] + '"></span>' +
    'Λ<sub>s</sub>CDM+N<sub><i>eff</i></sub>+∑<i>m</i><sub><i>ν</i></sub>: ' + label;
  fig.appendChild(item);
});
</script>
</body>
</html>
